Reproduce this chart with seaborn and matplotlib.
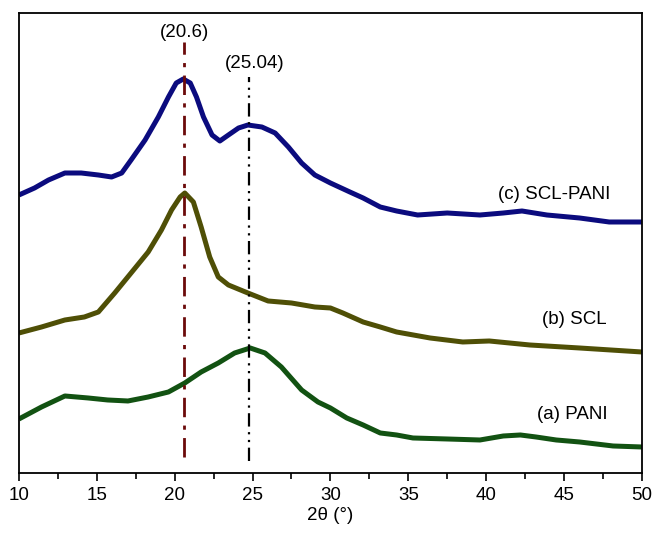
import numpy as np
import pandas as pd
import seaborn as sns
import matplotlib.pyplot as plt
from matplotlib.ticker import MultipleLocator

## ==============================
## 데이터 (그림에서 읽은 값, 세로축은 임의 단위 + 오프셋)

# (c) SCL-PANI
theta_c = [10.0, 11.0, 11.9, 12.95, 14.0, 15.1, 15.95, 16.6, 17.2, 18.1, 18.95, 19.6, 20.1,
           20.55, 21.0, 21.4, 21.85, 22.4, 22.9, 23.45, 24.1, 24.7, 25.6, 26.45, 27.3,
           28.15, 29.0, 30.0, 31.25, 32.1, 33.2, 34.25, 35.6, 37.5, 39.6, 41.1, 42.3,
           43.9, 46.0, 47.9, 50.0]
int_c = [278, 285, 293, 300, 300, 298, 296, 300, 313, 333, 356, 376, 390,
         394, 390, 376, 356, 338, 332, 338, 345, 348, 346, 340, 326,
         310, 298, 290, 281, 275, 266, 262, 258, 260, 258, 260, 262,
         258, 255, 251, 251]

# (b) SCL
theta_b = [10.0, 11.45, 12.95, 14.2, 15.1, 16.15, 17.2, 18.3, 19.15, 19.8, 20.35, 20.65,
           21.2, 21.7, 22.25, 22.8, 23.45, 24.7, 26.0, 27.5, 29.0, 30.0, 30.8, 32.1,
           33.2, 34.25, 36.4, 38.5, 40.2, 42.8, 46.0, 50.0]
int_b = [140, 146, 153, 156, 161, 180, 200, 221, 243, 263, 276, 280,
         271, 246, 216, 196, 188, 180, 172, 170, 166, 165, 160, 151,
         146, 141, 135, 131, 132, 128, 125, 121]

# (a) PANI
theta_a = [10.0, 11.45, 12.95, 14.45, 15.7, 17.0, 18.3, 19.6, 20.65, 21.7, 22.8, 23.85,
           24.85, 25.8, 26.85, 28.15, 29.2, 30.0, 31.05, 32.1, 33.2, 34.25, 35.3, 37.5,
           39.6, 41.1, 42.2, 43.2, 44.5, 46.0, 48.15, 50.0]
int_a = [54, 66, 77, 75, 73, 72, 76, 81, 90, 101, 110, 120,
         125, 120, 106, 83, 71, 65, 55, 48, 40, 38, 35, 34,
         33, 37, 38, 36, 33, 31, 27, 26]

peak_pos = [20.6, 24.8]
peak_labels = ['(20.6)', '(25.04)']

## ==============================
## 시각화
sns.set_style('ticks')
plt.rcParams['font.family'] = ['Liberation Sans', 'DejaVu Sans']
plt.rcParams['text.color'] = 'black'
plt.rcParams['xtick.color'] = 'black'
plt.rcParams['axes.labelcolor'] = 'black'
plt.rcParams['axes.edgecolor'] = 'black'
plt.rcParams['lines.solid_joinstyle'] = 'round'
plt.rcParams['lines.solid_capstyle'] = 'butt'

fig = plt.figure(figsize=(6.53, 5.33), dpi=100)
ax = fig.add_axes([0.029, 0.1126, 0.954, 0.863])

sns.lineplot(x=theta_c, y=int_c, color='#0b0b7e', linewidth=3.6, ax=ax)
sns.lineplot(x=theta_b, y=int_b, color='#4f4f06', linewidth=3.6, ax=ax)
sns.lineplot(x=theta_a, y=int_a, color='#125212', linewidth=3.6, ax=ax)

# 피크 위치 세로선
ax.plot([peak_pos[0], peak_pos[0]], [16, 431], color='#6b0a0a', linestyle=(0, (7, 3, 1.5, 3)), linewidth=2)
ax.plot([peak_pos[1], peak_pos[1]], [12, 396], color='black', linestyle=(0, (6, 2.5, 1, 2.5, 1, 2.5)), linewidth=1.6)

ax.text(peak_pos[0], 441, peak_labels[0], ha='center', va='center', fontsize=13.5)
ax.text(25.15, 410, peak_labels[1], ha='center', va='center', fontsize=13.5)

# 곡선 라벨
ax.text(47.95, 278, '(c) SCL-PANI', ha='right', va='center', fontsize=13.5)
ax.text(47.75, 153, '(b) SCL', ha='right', va='center', fontsize=13.5)
ax.text(47.8, 58, '(a) PANI', ha='right', va='center', fontsize=13.5)

ax.set_xlim(10, 50)
ax.set_ylim(0, 460)
ax.xaxis.set_major_locator(MultipleLocator(5))
ax.xaxis.set_minor_locator(MultipleLocator(2.5))
ax.set_yticks([])
ax.tick_params(axis='x', which='major', length=6, width=1.2, labelsize=13.5, direction='out', pad=4)
ax.tick_params(axis='x', which='minor', length=4, width=1.2, direction='out')
for s in ax.spines.values():
    s.set_visible(True)
    s.set_linewidth(1.3)
ax.set_xlabel('2θ (°)', fontsize=13.5, labelpad=2)
ax.set_ylabel('')

fig.savefig('out.png', dpi=100)
